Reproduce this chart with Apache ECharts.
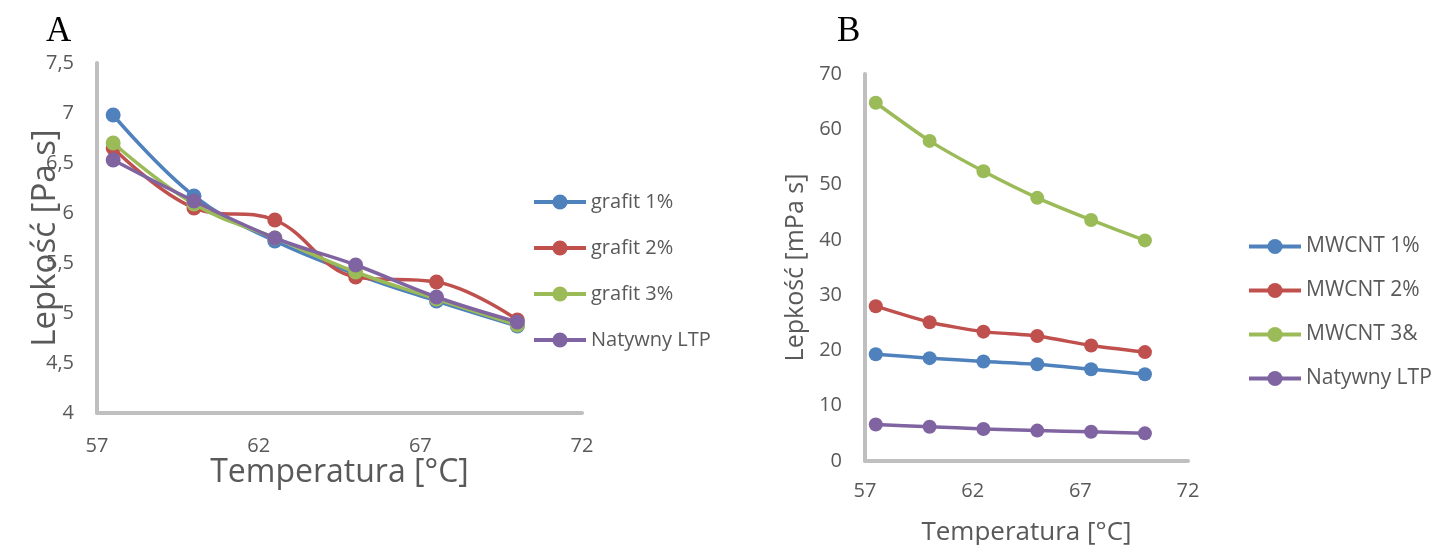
<!DOCTYPE html>
<html>
<head>
<meta charset="utf-8">
<script src="https://cdn.jsdelivr.net/npm/echarts@6/dist/echarts.min.js"></script>
<style>
html,body{margin:0;padding:0;background:#fff;}
#c{width:1452px;height:545px;}
</style>
</head>
<body>
<div id="c"></div>
<script>
// Shared temperatures (°C)
const temps = [57.5, 60, 62.5, 65, 67.5, 70];

// Panel A – viscosity [Pa s]
const grafit1 = [6.98, 6.17, 5.72, 5.39, 5.12, 4.87];
const grafit2 = [6.65, 6.05, 5.93, 5.36, 5.31, 4.93];
const grafit3 = [6.70, 6.09, 5.75, 5.41, 5.14, 4.88];
const natywnyA = [6.53, 6.12, 5.75, 5.48, 5.16, 4.91];

// Panel B – viscosity [mPa s]
const mwcnt1 = [19.3, 18.6, 18.0, 17.5, 16.6, 15.7];
const mwcnt2 = [28.0, 25.1, 23.4, 22.6, 20.9, 19.7];
const mwcnt3 = [64.8, 57.9, 52.4, 47.6, 43.6, 39.9];
const natywnyB = [6.6, 6.2, 5.8, 5.5, 5.3, 5.0];

const namesA = ['grafit 1%', 'grafit 2%', 'grafit 3%', 'Natywny LTP'];
const namesB = ['MWCNT 1%', 'MWCNT 2%', 'MWCNT 3&', 'Natywny LTP '];
const colors = ['#4F81BD', '#C0504D', '#9BBB59', '#8064A2'];

const pairs = arr => arr.map((v, i) => [temps[i], v]);

const FONT = 'Open Sans';
const TXT = '#595959';
const AX = '#BFBFBF';

function xAxis(gridIndex, labelSize, nameSize, nameGap, labelMargin) {
  return {
    type: 'value', gridIndex, min: 57, max: 72, interval: 5,
    name: 'Temperatura [°C]', nameLocation: 'middle', nameGap,
    nameMoveOverlap: false,
    nameTextStyle: { fontFamily: FONT, fontSize: nameSize, color: TXT },
    axisLine: { show: true, lineStyle: { color: AX, width: 4 } },
    axisTick: { show: false },
    splitLine: { show: false },
    axisLabel: { fontFamily: FONT, fontSize: labelSize, color: TXT, margin: labelMargin }
  };
}
function yAxis(gridIndex, min, max, interval, labelSize, name, nameSize, nameGap, fmt) {
  return {
    type: 'value', gridIndex, min, max, interval,
    name, nameLocation: 'middle', nameGap, nameRotate: 90,
    nameMoveOverlap: false,
    nameTextStyle: { fontFamily: FONT, fontSize: nameSize, color: TXT },
    axisLine: { show: true, lineStyle: { color: AX, width: 4 } },
    axisTick: { show: false },
    splitLine: { show: false },
    axisLabel: { fontFamily: FONT, fontSize: labelSize, color: TXT, margin: 23, formatter: fmt }
  };
}

function series(name, data, idx, xi, size, smooth) {
  return {
    name, type: 'line', xAxisIndex: xi, yAxisIndex: xi,
    data: pairs(data), smooth,
    symbol: 'circle', symbolSize: size,
    lineStyle: { color: colors[idx], width: 3.5 },
    itemStyle: { color: colors[idx] },
    emphasis: { disabled: true },
    z: 2 + idx
  };
}

function legend(data, left, top, size, gap) {
  return {
    data, orient: 'vertical', left, top,
    itemWidth: 52, itemHeight: 19, itemGap: gap,
    lineStyle: { width: 4 },
    textStyle: { fontFamily: FONT, fontSize: size, lineHeight: 19, color: TXT }
  };
}

const chart = echarts.init(document.getElementById('c'), null, { renderer: 'canvas' });
chart.setOption({
  animation: false,
  backgroundColor: '#fff',
  title: [
    { text: 'A', left: 41, top: 9, textStyle: { fontFamily: 'Liberation Serif', fontSize: 35, fontWeight: 'normal', color: '#000' } },
    { text: 'B', left: 832, top: 9, textStyle: { fontFamily: 'Liberation Serif', fontSize: 35, fontWeight: 'normal', color: '#000' } }
  ],
  grid: [
    { left: 97, right: 870, top: 63, bottom: 132, outerBoundsMode: 'none' },
    { left: 865, right: 264, top: 74, bottom: 84, outerBoundsMode: 'none' }
  ],
  xAxis: [ xAxis(0, 20, 32, 44, 23), xAxis(1, 20, 26, 59, 20) ],
  yAxis: [
    yAxis(0, 4, 7.5, 0.5, 20, 'Lepkość [Pa s]', 33, 35, v => String(v).replace('.', ',')),
    yAxis(1, 0, 70, 10, 20, 'Lepkość [mPa s]', 25, 57, v => String(v))
  ],
  legend: [
    legend(namesA, 527, 187, 20, 26),
    legend(namesB, 1242, 231, 21, 23)
  ],
  series: [
    series(namesA[0], grafit1, 0, 0, 15, 0.4),
    series(namesA[1], grafit2, 1, 0, 15, 0.4),
    series(namesA[2], grafit3, 2, 0, 15, 0.4),
    series(namesA[3], natywnyA, 3, 0, 15, 0.4),
    series(namesB[0], mwcnt1, 0, 1, 14, 0.2),
    series(namesB[1], mwcnt2, 1, 1, 14, 0.2),
    series(namesB[2], mwcnt3, 2, 1, 14, 0.2),
    series(namesB[3], natywnyB, 3, 1, 14, 0.2)
  ]
});
</script>
</body>
</html>
